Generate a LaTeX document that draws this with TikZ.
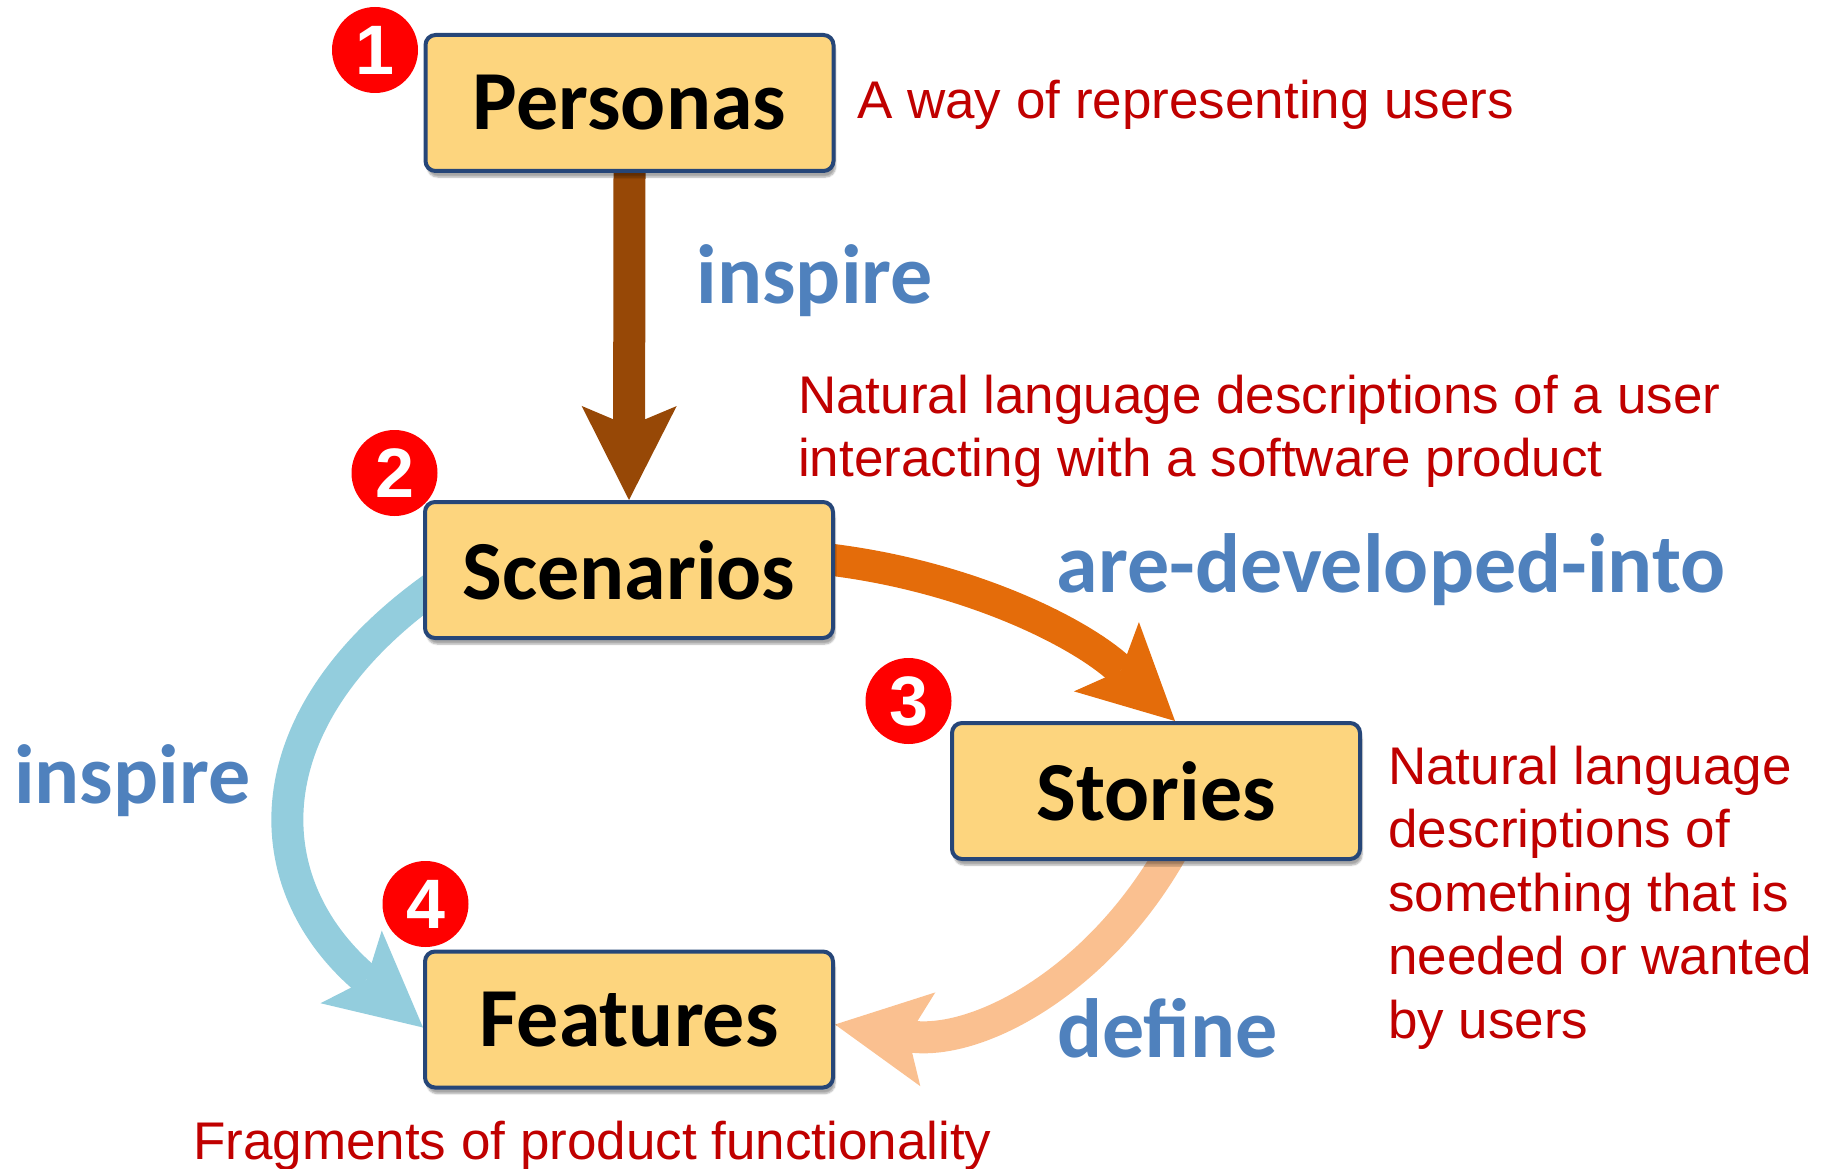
\documentclass[tikz,border=0pt]{standalone}
\usepackage{fontspec}
\usetikzlibrary{arrows.meta,backgrounds,shadows.blur}
\newfontfamily\boxfont{Carlito}
\newfontfamily\notefont{Liberation Sans}

\definecolor{boxfill}{RGB}{253,213,126}
\definecolor{boxline}{RGB}{38,70,120}
\definecolor{inspirebrown}{RGB}{151,72,6}
\definecolor{developorange}{RGB}{228,108,10}
\definecolor{inspireblue}{RGB}{147,205,221}
\definecolor{definepeach}{RGB}{250,192,144}
\definecolor{verbblue}{RGB}{79,129,189}
\definecolor{notered}{RGB}{192,0,0}
\definecolor{badgered}{RGB}{255,0,0}

\tikzset{
  stage/.style={draw=boxline, line width=4pt, fill=boxfill, rounded corners=10pt,
    minimum width=408pt, minimum height=136pt, inner sep=0pt,
    font=\boxfont\bfseries\fontsize{84}{100}\selectfont,
    blur shadow={shadow xshift=2pt, shadow yshift=-6pt, shadow blur steps=6, shadow opacity=35}},
  badge/.style={circle, fill=badgered, minimum size=86pt, inner sep=0pt, text=white,
    font=\notefont\bfseries\fontsize{70}{70}\selectfont},
  verb/.style={text=verbblue, inner sep=0pt, font=\boxfont\bfseries\fontsize{84}{100}\selectfont},
  note/.style={text=notered, inner sep=0pt, align=left, font=\notefont\fontsize{53}{63.5}\selectfont},
  flow/.style={line width=32pt, -{Stealth[length=94pt, width=95pt, inset=20pt, line width=0pt]}},
}

\begin{document}
\begin{tikzpicture}[x=1pt, y=-1pt]
\useasboundingbox (0,0) rectangle (1825,1169);

% numbered badges, behind the boxes
\node[badge] (b1) at (375,50) {1};
\node[badge] (b2) at (394.5,473) {2};
\node[badge] (b3) at (908.5,701) {3};
\node[badge] (b4) at (425.5,904) {4};

\node[stage] (pers) at (629.5,103) {Personas};
\node[stage] (scen) at (629,570) {Scenarios};
\node[stage] (stor) at (1156,791) {Stories};
\node[stage] (feat) at (629,1019.5) {Features};

\begin{scope}[on background layer]
\draw[flow, draw=inspirebrown] (pers.south) -- (scen.north);
\draw[flow, draw=developorange] ([xshift=-10pt,yshift=11pt]scen.east) .. controls (964,575) and (1079,631) .. ([xshift=19pt]stor.north);
\draw[flow, draw=inspireblue] ([xshift=10pt,yshift=-18pt]scen.west) .. controls (249,720) and (254,885) .. ([yshift=-8pt]feat.west);
\draw[flow, draw=definepeach] ([xshift=16pt,yshift=10pt]stor.south) .. controls (1098,982) and (976,1047) .. ([yshift=-5pt]feat.east);
\end{scope}

% base west of a multi-line note is its last line
\node[note, anchor=base west] (persnote) at (857,119) {A way of representing users};
\node[verb, anchor=base west] (inspa) at (696.5,303) {inspire};
\node[note, anchor=base west] (scennote) at (798,476.5) {Natural language descriptions of a user\\interacting with a software product};
\node[verb, anchor=base west] (devel) at (1056.5,592) {are-developed-into};
\node[verb, anchor=base west] (inspb) at (14,803) {inspire};
\node[note, anchor=base west] (stornote) at (1388,1038) {Natural language\\descriptions of\\something that is\\needed or wanted\\by users};
\node[verb, anchor=base west] (defn) at (1057,1057) {define};
\node[note, anchor=base west] (featnote) at (193,1159) {Fragments of product functionality};
\end{tikzpicture}
\end{document}
